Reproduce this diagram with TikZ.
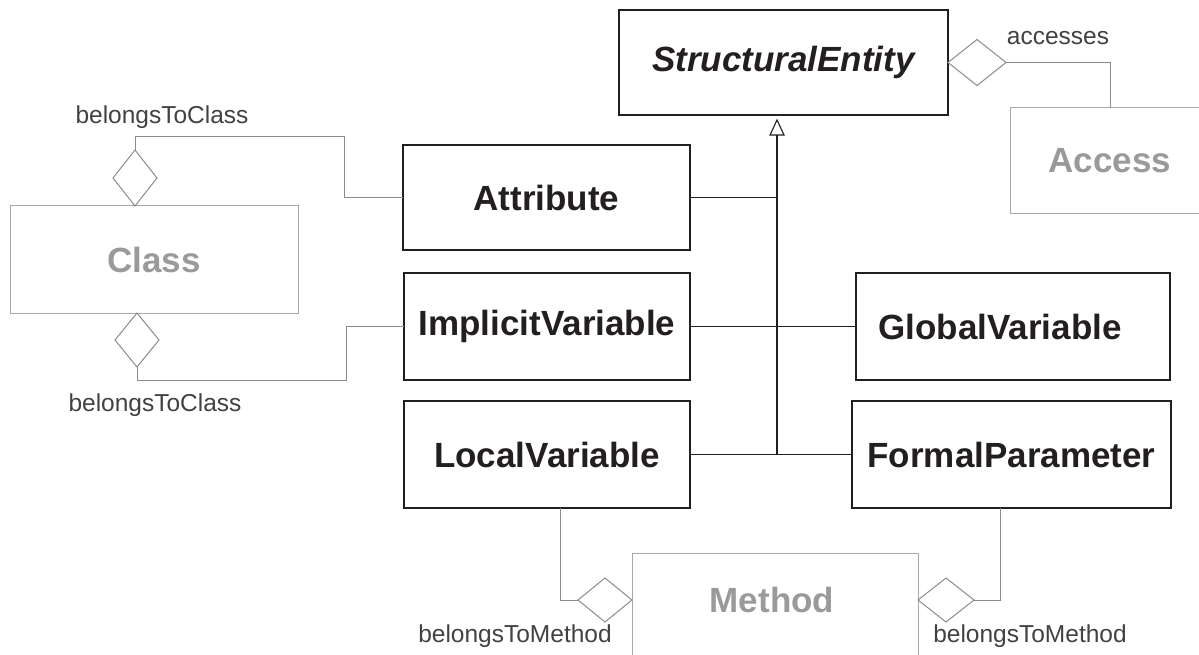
\documentclass[tikz,border=0pt]{standalone}
\usepackage{fontspec}
\setmainfont{Liberation Sans}
\usetikzlibrary{calc}
\definecolor{boxgray}{HTML}{A8A8A8}
\definecolor{txtgray}{HTML}{9A9A9A}
\definecolor{linegray}{HTML}{8C8C8C}
\definecolor{ink}{HTML}{231F20}
\begin{document}
\begin{tikzpicture}[x=1pt,y=-1pt,
 box/.style={draw=ink, line width=1.2pt, inner sep=0pt, outer sep=0pt, anchor=north west,
   font=\fontsize{35}{40}\selectfont\bfseries, text=ink},
 graybox/.style={draw=boxgray, line width=1pt, inner sep=0pt, outer sep=0pt, anchor=north west,
   font=\fontsize{35}{40}\selectfont\bfseries, text=txtgray},
 graytxt/.style={font=\fontsize{35}{40}\selectfont\bfseries, text=txtgray, inner sep=0pt},
 gen/.style={draw=ink, line width=1.1pt},
 assoc/.style={draw=linegray, line width=1pt},
 dia/.style={draw=linegray, line width=1pt, fill=white},
 lbl/.style={font=\fontsize{24.5}{28}\selectfont, text=ink!85, inner sep=0pt}
]
\useasboundingbox (0,0) rectangle (1199,655);
\clip (0,0) rectangle (1199,655);
\fill[white] (0,0) rectangle (1199,655);

% boxes
\node[box, minimum width=329pt, minimum height=105pt] (se) at (619,10) {\itshape StructuralEntity};
\node[graybox, minimum width=200pt, minimum height=106pt] (access) at (1010,108) {Access};
\node[box, minimum width=287pt, minimum height=105pt] (attr) at (403,145) {Attribute};
\node[graybox, minimum width=288pt, minimum height=107pt] (class) at (10,206) {Class};
\node[box, minimum width=286pt, minimum height=107pt] (impl) at (404,273) {ImplicitVariable};
\node[box, minimum width=314pt, minimum height=107pt] (glob) at (856,273) {GlobalVariable\hspace*{26pt}};
\node[box, minimum width=286pt, minimum height=107pt] (local) at (404,401) {LocalVariable};
\node[box, minimum width=319pt, minimum height=107pt] (formal) at (852,401) {FormalParameter};
\node[graybox, minimum width=286pt, minimum height=120pt] (method) at (632,553) {};
\node[graytxt] (methodlbl) at ($(method.north)+(-3,47)$) {Method};

% generalization
\coordinate (apex) at ($(se.south)+(-6.5,5)$);
\coordinate (base) at ($(apex)+(0,15)$);
\draw[gen] (base) -- (base |- local.east);
\draw[gen, fill=white, line join=miter] (apex) -- ++(-7,15) -- ++(14,0) -- cycle;
\draw[gen] (attr.east) -- (attr.east -| base);
\draw[gen] (impl.east) -- (glob.west);
\draw[gen] (local.east) -- (formal.west);

% accesses
\draw[dia] (se.east) -- ++(29,-23) -- ++(29,23) coordinate (acctip) -- ++(-29,23) -- cycle;
\draw[assoc] (acctip) -| (access.north);
\node[lbl] (acclbl) at (1058,38) {accesses};

% class associations
\draw[dia] ($(class.north west)+(125,0)$) -- ++(-22,-28) -- ++(22,-28) coordinate (ct) -- ++(22,28) -- cycle;
\draw[assoc] (ct) -- ++(0,-13) -| ($(attr.west)+(-59,0)$) -- (attr.west);
\node[lbl] (bc1) at (162,117) {belongsToClass};

\draw[dia] ($(class.south west)+(127,0)$) -- ++(-22,27) -- ++(22,27) coordinate (cb) -- ++(22,-27) -- cycle;
\draw[assoc] (cb) -- ++(0,13) -| ($(impl.west)+(-58,0)$) -- (impl.west);
\node[lbl] (bc2) at (155,405) {belongsToClass};

% method associations
\draw[dia] ($(method.north west)+(0,47)$) -- ++(-27,-22) -- ++(-27,22) coordinate (ml) -- ++(27,22) -- cycle;
\draw[assoc] (ml) -| ($(local.south west)+(156,0)$);
\node[lbl] (bm1) at (515,636) {belongsToMethod};

\draw[dia] ($(method.north east)+(0,47)$) -- ++(28,-22) -- ++(28,22) coordinate (mr) -- ++(-28,22) -- cycle;
\draw[assoc] (mr) -| ($(formal.south west)+(148,0)$);
\node[lbl] (bm2) at (1030,636) {belongsToMethod};
\end{tikzpicture}
\end{document}
